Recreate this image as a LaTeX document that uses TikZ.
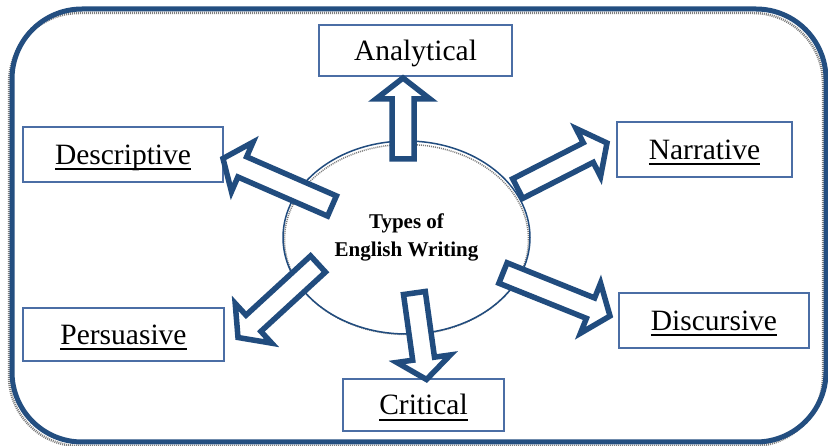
\documentclass[tikz,border=0pt]{standalone}
\usepackage{fontspec}
\setmainfont{Liberation Serif}
\usetikzlibrary{calc,shapes.geometric}
\definecolor{frameblue}{RGB}{35,78,128}
\definecolor{arrowblue}{RGB}{33,76,126}
\definecolor{boxblue}{RGB}{75,110,165}
\definecolor{shadowgray}{RGB}{125,125,125}
\newcommand\ulword[1]{\setbox0\hbox{#1}\rlap{\rule[-6pt]{\wd0}{2pt}}\box0}
\def\arrsw{11pt}\def\arrhw{27pt}\def\arrhl{21pt}
\newcommand\blockarrow[2]{%
  \coordinate (bhead) at ($(#2)!\arrhl!(#1)$);
  \draw[barrow] ($(#1)!\arrsw!90:(#2)$) -- ($(bhead)!\arrsw!-90:(#1)$) -- ($(bhead)!\arrhw!-90:(#1)$) -- (#2) -- ($(bhead)!\arrhw!90:(#1)$) -- ($(bhead)!\arrsw!90:(#1)$) -- ($(#1)!\arrsw!-90:(#2)$) -- cycle;}
\begin{document}
\begin{tikzpicture}[x=1pt,y=-1pt,
  barrow/.style={draw=arrowblue, line width=5.5pt, fill=white, line join=miter},
  typebox/.style={draw=boxblue, line width=1.4pt, fill=white, inner sep=0pt,
    text height=19.5pt, text depth=0pt, font=\fontsize{29.5}{35}\selectfont},
  shadowline/.style={shadowgray, dash pattern=on 1pt off 1pt}]
\useasboundingbox (0,0) rectangle (828,446);
\fill[white] (0,0) rectangle (828,446);
% frame with shadow
\draw[shadowline, line width=2.5pt, rounded corners=70pt] (9,13) rectangle (823,446);
\draw[frameblue, line width=5pt, rounded corners=70pt] (12,9) rectangle (826,442);
% central ellipse
\draw[shadowline, line width=1.5pt] (406.5,239.5) ellipse [x radius=122, y radius=95];
\node[ellipse, draw=arrowblue, line width=1.5pt, minimum width=247pt, minimum height=193pt,
  inner sep=0pt, align=center, font=\bfseries\fontsize{21}{28}\selectfont]
  (core) at (406.5,237.5) {Types of\\English Writing};
% boxes
\node[typebox, minimum width=193pt, minimum height=51pt] (analytical) at (415.5,50.5) {Analytical};
\node[typebox, minimum width=200pt, minimum height=55pt] (descriptive) at (123,154.5) {\ulword{Descriptive}};
\node[typebox, minimum width=175pt, minimum height=55pt] (narrative) at (704.5,149.5) {\ulword{Narrative}};
\node[typebox, minimum width=201pt, minimum height=53pt] (persuasive) at (123.5,334.5) {\ulword{Persuasive}};
\node[typebox, minimum width=190pt, minimum height=55pt] (discursive) at (714,320.5) {\ulword{Discursive}};
\node[typebox, minimum width=161pt, minimum height=52pt] (critical) at (423.5,405) {\ulword{Critical}};
% arrow ends
\coordinate (tA) at (403,159);     \coordinate (hA) at (403,78);
\coordinate (tN) at (517.7,188.6); \coordinate (hN) at (607,143);
\coordinate (tD) at (332,206);     \coordinate (hD) at (223,158.5);
\coordinate (tP) at (318,264);     \coordinate (hP) at (238,337.5);
\coordinate (tC) at (414.4,293);   \coordinate (hC) at (426.5,379.5);
\coordinate (tR) at (503,273);     \coordinate (hR) at (610,316);
\blockarrow{tA}{hA}
\blockarrow{tN}{hN}
\blockarrow{tD}{hD}
\blockarrow{tP}{hP}
\blockarrow{tC}{hC}
\blockarrow{tR}{hR}
\end{tikzpicture}
\end{document}
